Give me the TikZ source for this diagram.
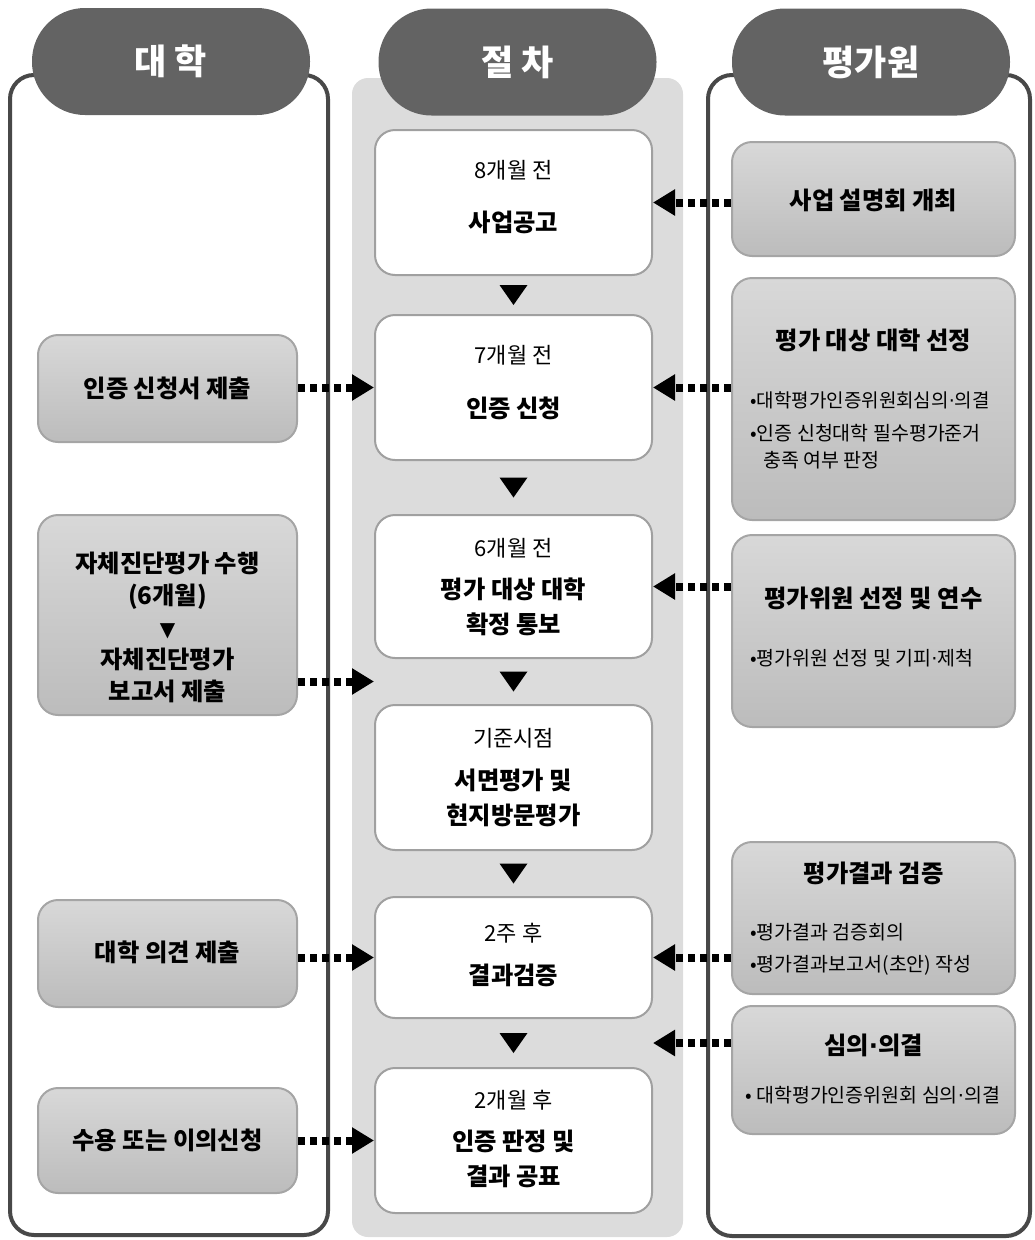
\documentclass[tikz,border=0pt]{standalone}
\usepackage{fontspec}
\setmainfont{Noto Sans CJK KR}
\newfontfamily\dv{DejaVu Sans}
\usetikzlibrary{arrows.meta,calc}
\definecolor{tabgray}{RGB}{99,99,99}
\definecolor{framegray}{RGB}{72,72,72}
\definecolor{panelgray}{RGB}{220,220,220}
\definecolor{boxborder}{RGB}{160,160,160}
\definecolor{sidetop}{RGB}{216,216,216}
\definecolor{sidebot}{RGB}{188,188,188}
\definecolor{sideborder}{RGB}{165,165,165}
\newcommand{\md}{{\dv ·}}
\tikzset{
  tabbox/.style={fill=tabgray, rounded corners=53pt, minimum width=278pt, minimum height=107pt,
    text=white, font=\fontsize{35}{38}\selectfont\bfseries, inner sep=0pt},
  framebox/.style={draw=framegray, line width=4pt, rounded corners=24pt},
  midbox/.style={draw=boxborder, line width=2pt, fill=white, rounded corners=20pt,
    minimum width=277pt, inner sep=0pt},
  sidebox/.style={draw=sideborder, line width=2pt, top color=sidetop, bottom color=sidebot,
    rounded corners=20pt, inner sep=0pt},
  smalltxt/.style={font=\fontsize{22}{26}\selectfont, inner sep=0pt},
  bigtxt/.style={font=\fontsize{24.3}{35}\selectfont\bfseries, align=center, inner sep=0pt},
  bultxt/.style={font=\fontsize{19.5}{22}\selectfont, inner sep=0pt, anchor=west},
  dotarrow/.style={line width=8pt, line cap=butt, dash pattern=on 7pt off 5pt,
    -{Triangle[length=22pt,width=25pt]}},
  downtri/.style={fill=black}
}
\begin{document}
\begin{tikzpicture}[x=1pt,y=-1pt]
\useasboundingbox (0,0) rectangle (1035,1240);
% frames and panel
\draw[framebox] (10,75) rectangle (328,1235);
\draw[framebox] (708,75) rectangle (1030,1236);
\fill[panelgray, rounded corners=16pt] (352,78) rectangle (683,1237);
% tabs
\node[tabbox] (tabL) at (171,61.5) {대 학};
\node[tabbox] (tabM) at (517.5,62) {절 차};
\node[tabbox] (tabR) at (871,62) {평가원};
% middle boxes
\node[midbox, minimum height=145pt] (M1) at (513.5,202.5) {};
\node[midbox, minimum height=145pt] (M2) at (513.5,387.5) {};
\node[midbox, minimum height=143pt] (M3) at (513.5,586.5) {};
\node[midbox, minimum height=145pt] (M4) at (513.5,777.5) {};
\node[midbox, minimum height=121pt] (M5) at (513.5,957.5) {};
\node[midbox, minimum height=145pt] (M6) at (513.5,1140.5) {};
% middle texts
\node[smalltxt] (m1a) at (513.5,170) {8개월 전};
\node[bigtxt] (m1b) at (513.5,222) {사업공고};
\node[smalltxt] (m2a) at (513.5,355) {7개월 전};
\node[bigtxt] (m2b) at (513.5,408) {인증 신청};
\node[smalltxt] (m3a) at (513.5,548) {6개월 전};
\node[bigtxt] (m3b) at (513.5,607) {평가 대상 대학\\확정 통보};
\node[smalltxt] (m4a) at (513.5,738) {기준시점};
\node[bigtxt] (m4b) at (513.5,797.5) {서면평가 및\\현지방문평가};
\node[smalltxt] (m5a) at (513.5,933) {2주 후};
\node[bigtxt] (m5b) at (513.5,975) {결과검증};
\node[smalltxt] (m6a) at (513.5,1100) {2개월 후};
\node[bigtxt] (m6b) at (513.5,1159) {인증 판정 및\\결과 공표};
% down triangles
\foreach \a/\b in {M1/M2,M2/M3,M3/M4,M4/M5,M5/M6}{
  \fill[downtri] ($(\a.south)!0.5!(\b.north)$) ++(-14,-10) -- ++(28,0) -- ++(-14,20) -- cycle;
}
% left boxes
\node[sidebox, minimum width=259pt, minimum height=107pt] (L1) at (167.5,388.5) {};
\node[sidebox, minimum width=259pt, minimum height=200pt] (L2) at (167.5,615) {};
\node[sidebox, minimum width=259pt, minimum height=107pt] (L3) at (167.5,953.5) {};
\node[sidebox, minimum width=259pt, minimum height=105pt] (L4) at (167.5,1140.5) {};
\node[bigtxt] (l1t) at (167.5,388) {인증 신청서 제출};
\node[bigtxt, font=\fontsize{24.3}{32}\selectfont\bfseries] (l2t) at (167.5,627)
  {자체진단평가 수행\\(6개월)\\{\dv\fontsize{20}{32}\selectfont ▼}\\자체진단평가\\보고서 제출};
\node[bigtxt] (l3t) at (167.5,952) {대학 의견 제출};
\node[bigtxt] (l4t) at (167.5,1140) {수용 또는 이의신청};
% right boxes
\node[sidebox, minimum width=283pt, minimum height=114pt] (R1) at (873.5,199) {};
\node[sidebox, minimum width=283pt, minimum height=242pt] (R2) at (873.5,399) {};
\node[sidebox, minimum width=283pt, minimum height=192pt] (R3) at (873.5,631) {};
\node[sidebox, minimum width=283pt, minimum height=152pt] (R4) at (873.5,918) {};
\node[sidebox, minimum width=283pt, minimum height=128pt] (R5) at (873.5,1070) {};
\node[bigtxt] (r1t) at (873.5,200) {사업 설명회 개최};
\node[bigtxt] (r2t) at (873.5,340) {평가 대상 대학 선정};
\node[bultxt, font=\fontsize{19}{22}\selectfont] (r2a) at (750,400) {•대학평가인증위원회심의\md 의결};
\node[bultxt] (r2b) at (750,433) {•인증 신청대학 필수평가준거};
\node[bultxt] (r2c) at (763,460) {충족 여부 판정};
\node[bigtxt] (r3t) at (873.5,598) {평가위원 선정 및 연수};
\node[bultxt] (r3a) at (750,658) {•평가위원 선정 및 기피\md 제척};
\node[bigtxt] (r4t) at (873.5,873) {평가결과 검증};
\node[bultxt] (r4a) at (750,932) {•평가결과 검증회의};
\node[bultxt] (r4b) at (750,965) {•평가결과보고서(초안) 작성};
\node[bigtxt] (r5t) at (873.5,1045) {심의\md 의결};
\node[bultxt] (r5a) at (745,1095) {• 대학평가인증위원회 심의\md 의결};
% gap coordinates
\coordinate (g34) at ($(M3.south west)!0.5!(M4.north west)$);
\coordinate (g56) at ($(M5.south east)!0.5!(M6.north east)$);
% arrows
\draw[dotarrow] (R1.west |- M1.east) -- (M1.east);
\draw[dotarrow] (R2.west |- M2.east) -- (M2.east);
\draw[dotarrow] (R3.west |- M3.east) -- (M3.east);
\draw[dotarrow] (R4.west |- M5.east) -- (M5.east);
\draw[dotarrow] (R5.west |- g56) -- (g56);
\draw[dotarrow] (L1.east |- M2.west) -- (M2.west);
\draw[dotarrow] (L2.east |- g34) -- (g34);
\draw[dotarrow] (L3.east |- M5.west) -- (M5.west);
\draw[dotarrow] (L4.east |- M6.west) -- (M6.west);
\end{tikzpicture}
\end{document}
